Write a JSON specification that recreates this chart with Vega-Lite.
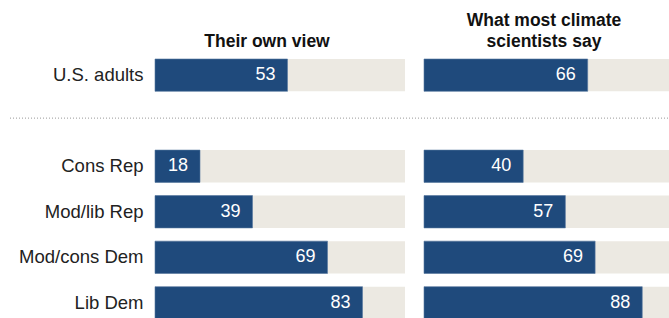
{
  "$schema": "https://vega.github.io/schema/vega-lite/v6.json",
  "padding": {"left": 9, "top": 12, "right": 0, "bottom": 0},
  "background": "white",
  "config": {
    "view": {"stroke": null},
    "font": "Liberation Sans",
    "title": {"font": "Liberation Sans", "fontSize": 17.5, "fontWeight": "bold", "color": "#111", "anchor": "middle", "lineHeight": 21, "offset": 8}
  },
  "datasets": {
    "own": [
      {"group": "U.S. adults", "value": 53},
      {"group": "Cons Rep", "value": 18},
      {"group": "Mod/lib Rep", "value": 39},
      {"group": "Mod/cons Dem", "value": 69},
      {"group": "Lib Dem", "value": 83}
    ],
    "sci": [
      {"group": "U.S. adults", "value": 66},
      {"group": "Cons Rep", "value": 40},
      {"group": "Mod/lib Rep", "value": 57},
      {"group": "Mod/cons Dem", "value": 69},
      {"group": "Lib Dem", "value": 88}
    ],
    "sep": [{"group": "gap"}]
  },
  "spacing": 0,
  "hconcat": [
    {
      "width": 250,
      "height": 260,
      "title": {"text": "Their own view", "dx": -13},
      "layer": [
        {
          "data": {"name": "own"},
          "mark": {"type": "bar", "color": "#ECE9E2"},
          "encoding": {
            "y": {"field": "group", "type": "nominal",
              "scale": {"domain": ["U.S. adults", "gap", "Cons Rep", "Mod/lib Rep", "Mod/cons Dem", "Lib Dem"], "paddingInner": 0.29, "paddingOuter": 0},
              "axis": {"title": null, "ticks": false, "domain": false, "labelFontSize": 18.5, "labelColor": "#222", "labelPadding": 12, "labelExpr": "datum.value == 'gap' ? '' : datum.value"}},
            "x": {"datum": 100, "type": "quantitative", "scale": {"domain": [0, 100]}, "axis": null}
          }
        },
        {
          "data": {"name": "own"},
          "mark": {"type": "bar", "color": "#1F4A7C", "stroke": "#5577a0", "strokeWidth": 0.6},
          "encoding": {
            "y": {"field": "group", "type": "nominal"},
            "x": {"field": "value", "type": "quantitative"}
          }
        },
        {
          "data": {"name": "own"},
          "mark": {"type": "text", "align": "right", "baseline": "middle", "dx": -12, "fontSize": 18, "color": "white"},
          "encoding": {
            "y": {"field": "group", "type": "nominal"},
            "x": {"field": "value", "type": "quantitative"},
            "text": {"field": "value", "type": "quantitative"}
          }
        },
        {
          "data": {"name": "sep"},
          "mark": {"type": "rule", "color": "#999", "strokeWidth": 1, "strokeDash": [1, 2], "clip": false},
          "encoding": {
            "y": {"field": "group", "type": "nominal", "bandPosition": 0.42},
            "x": {"datum": -58},
            "x2": {"datum": 106.8}
          }
        }
      ]
    },
    {
      "width": 248,
      "height": 260,
      "title": {"text": ["What most climate", "scientists say"], "dx": -4},
      "layer": [
        {
          "data": {"name": "sci"},
          "mark": {"type": "bar", "color": "#ECE9E2"},
          "encoding": {
            "y": {"field": "group", "type": "nominal",
              "scale": {"domain": ["U.S. adults", "gap", "Cons Rep", "Mod/lib Rep", "Mod/cons Dem", "Lib Dem"], "paddingInner": 0.29, "paddingOuter": 0},
              "axis": null},
            "x": {"datum": 100, "type": "quantitative", "scale": {"domain": [0, 100]}, "axis": null}
          }
        },
        {
          "data": {"name": "sci"},
          "mark": {"type": "bar", "color": "#1F4A7C", "stroke": "#5577a0", "strokeWidth": 0.6},
          "encoding": {
            "y": {"field": "group", "type": "nominal"},
            "x": {"field": "value", "type": "quantitative"}
          }
        },
        {
          "data": {"name": "sci"},
          "mark": {"type": "text", "align": "right", "baseline": "middle", "dx": -12, "fontSize": 18, "color": "white"},
          "encoding": {
            "y": {"field": "group", "type": "nominal"},
            "x": {"field": "value", "type": "quantitative"},
            "text": {"field": "value", "type": "quantitative"}
          }
        },
        {
          "data": {"name": "sep"},
          "mark": {"type": "rule", "color": "#999", "strokeWidth": 1, "strokeDash": [1, 2], "clip": false},
          "encoding": {
            "y": {"field": "group", "type": "nominal", "bandPosition": 0.42},
            "x": {"datum": 0},
            "x2": {"datum": 100}
          }
        }
      ]
    }
  ]
}
